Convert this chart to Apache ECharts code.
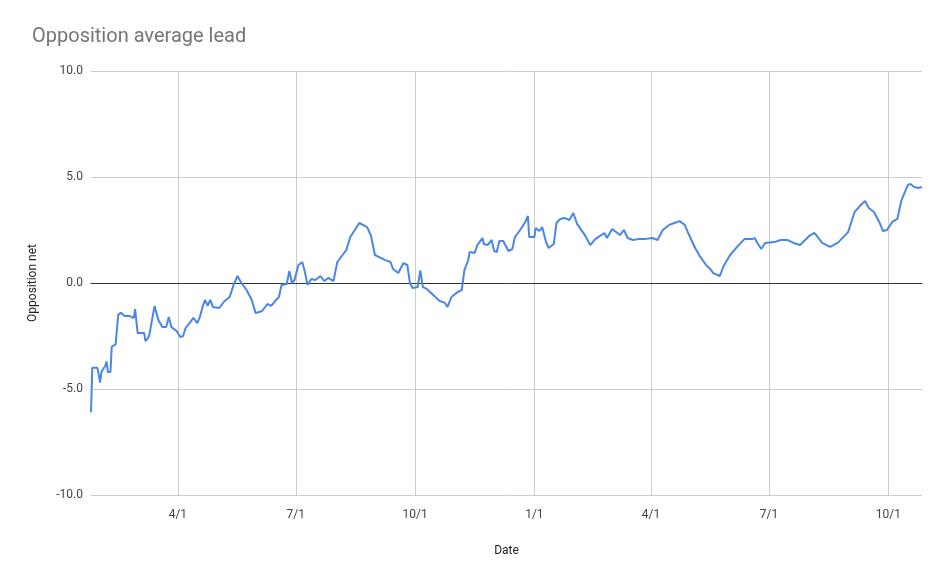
<!DOCTYPE html>
<html lang="en">
<head>
    <meta charset="UTF-8">
    <title>Opposition average lead</title>
    <script src="https://cdn.jsdelivr.net/npm/echarts@6/dist/echarts.min.js"></script>
    <style>html,body{margin:0;background:#fff}#chart{width:948px;height:571px}</style>
</head>
<body>
<div id="chart"></div>
<script>
    // first day of the series
    var startDate = new Date(2021, 0, 24);
    var dayCount = 642;
    // day offsets from startDate and the net lead
    var days = [0,1,5,7,8,11,12,13,15,16,19,21,23,26,30,33,34,35,36,41,42,44,45,49,52,55,58,60,62,66,69,71,73,76,79,82,84,86,88,90,92,94,99,103,107,110,113,116,120,124,127,132,136,139,142,145,147,151,153,155,157,160,163,165,167,170,173,177,180,183,187,190,194,197,200,204,207,213,216,219,227,231,233,237,241,244,246,248,252,254,256,259,264,269,273,275,278,283,286,288,291,292,296,298,302,303,306,309,311,313,315,318,322,325,327,331,335,337,338,342,343,346,348,351,353,357,359,362,365,369,372,375,381,385,389,396,398,402,408,411,414,418,422,427,433,437,441,446,450,454,458,461,466,470,475,477,480,485,488,493,499,504,510,512,514,517,520,527,532,537,542,547,554,558,564,570,576,584,589,593,597,600,604,608,611,614,618,622,625,630,632,635,638,641];
    var lead = [-6.1,-4.0,-4.0,-4.7,-4.2,-3.9,-3.7,-4.2,-4.2,-3.0,-2.9,-1.5,-1.4,-1.56,-1.56,-1.65,-1.23,-1.27,-2.36,-2.36,-2.74,-2.6,-2.45,-1.09,-1.75,-2.08,-2.08,-1.6,-2.08,-2.26,-2.55,-2.5,-2.12,-1.89,-1.65,-1.89,-1.6,-1.13,-0.8,-1.08,-0.8,-1.13,-1.18,-0.85,-0.66,-0.09,0.33,0,-0.33,-0.8,-1.42,-1.32,-0.99,-1.08,-0.85,-0.66,-0.09,-0.05,0.57,0,0.14,0.85,0.99,0.52,-0.09,0.19,0.14,0.33,0.09,0.24,0.09,0.99,1.32,1.56,2.17,2.55,2.83,2.64,2.22,1.32,1.08,0.99,0.66,0.47,0.94,0.85,0,-0.24,-0.19,0.6,-0.19,-0.28,-0.57,-0.85,-0.94,-1.13,-0.66,-0.42,-0.33,0.61,1.08,1.46,1.42,1.79,2.12,1.84,1.79,2.03,1.51,1.46,1.98,1.98,1.51,1.6,2.17,2.5,2.88,3.16,2.17,2.17,2.59,2.45,2.64,1.93,1.65,1.84,2.83,3.02,3.07,2.97,3.3,2.78,2.26,1.79,2.07,2.36,2.12,2.55,2.26,2.5,2.12,2.03,2.07,2.07,2.12,2.03,2.5,2.74,2.83,2.92,2.74,2.31,1.65,1.23,0.8,0.71,0.47,0.33,0.8,1.32,1.75,2.07,2.07,2.12,1.89,1.6,1.89,1.93,2.03,2.03,1.89,1.79,2.22,2.36,1.89,1.7,1.89,2.4,3.35,3.63,3.87,3.54,3.35,2.88,2.45,2.5,2.88,3.02,3.87,4.62,4.67,4.53,4.48,4.53];
    var tickMonths = [0, 3, 6, 9];

    var categories = [];
    var isTick = [];
    for (var i = 0; i < dayCount; i++) {
        var d = new Date(startDate.getTime());
        d.setDate(d.getDate() + i);
        categories.push((d.getMonth() + 1) + '/' + d.getDate());
        isTick.push(d.getDate() === 1 && tickMonths.indexOf(d.getMonth()) >= 0);
    }
    var seriesData = categories.map(function () { return null; });
    days.forEach(function (day, k) { seriesData[day] = lead[k]; });

    function tickAt(idx) { return isTick[idx]; }

    var chart = echarts.init(document.getElementById('chart'));
    chart.setOption({
        animation: false,
        title: {
            text: 'Opposition average lead',
            left: 27, top: 22,
            textStyle: {color: '#757575', fontSize: 20, fontWeight: 'normal', fontFamily: 'Roboto'}
        },
        grid: {left: 91, right: 26, top: 71, bottom: 76},
        xAxis: {
            type: 'category',
            data: categories,
            boundaryGap: false,
            name: 'Date',
            nameLocation: 'middle',
            nameGap: 50,
            nameTextStyle: {color: '#222', fontSize: 12, fontFamily: 'Roboto'},
            axisLine: {onZero: true, lineStyle: {color: '#333', width: 1}},
            axisTick: {show: false},
            axisLabel: {interval: tickAt, color: '#444', fontSize: 12, margin: 14, fontFamily: 'Roboto'},
            splitLine: {show: true, interval: tickAt, lineStyle: {color: '#ccc'}}
        },
        yAxis: {
            type: 'value',
            min: -10, max: 10, interval: 5,
            name: 'Opposition net',
            nameLocation: 'middle',
            nameGap: 52,
            nameTextStyle: {color: '#222', fontSize: 12, fontFamily: 'Roboto'},
            axisLabel: {color: '#444', fontSize: 12, fontFamily: 'Roboto', formatter: function (v) { return v.toFixed(1); }},
            splitLine: {lineStyle: {color: '#ccc'}}
        },
        series: [{
            type: 'line',
            data: seriesData,
            connectNulls: true,
            showSymbol: false,
            lineStyle: {color: '#4a86e8', width: 2},
            itemStyle: {color: '#4a86e8'}
        }]
    });
</script>
</body>
</html>
